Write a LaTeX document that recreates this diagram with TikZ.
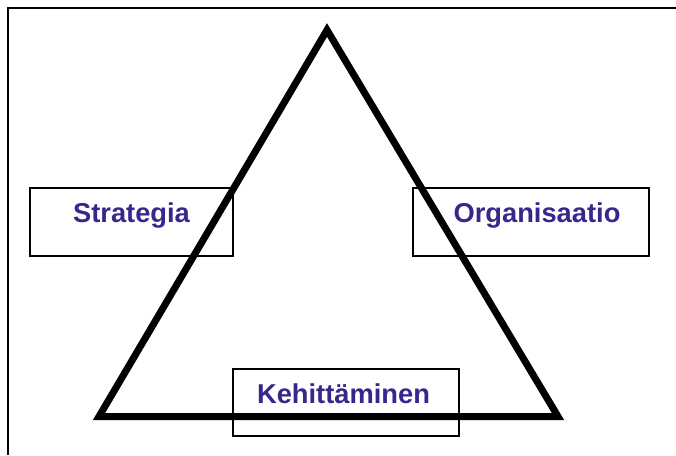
\documentclass[tikz,border=0pt]{standalone}
\usepackage{fontspec}
\setmainfont{Liberation Sans}
\definecolor{labelpurple}{RGB}{55,38,140}
\begin{document}
\begin{tikzpicture}[x=1pt,y=-1pt,
  box/.style={draw=black,line width=1.2pt,minimum width=#1,inner sep=0pt,minimum height=68pt},
  lbl/.style={text=labelpurple,font=\fontsize{27.3}{32}\selectfont\bfseries,inner sep=0pt,anchor=base},
  frame/.style={line width=2pt,black},
  tri/.style={line width=7pt,line join=miter,black}]
\useasboundingbox (0,0) rectangle (676,455);
% page frame: top and left rules only
\coordinate (ftl) at (8,8);
\coordinate (ftr) at (676,8);
\coordinate (fbl) at (8,455);
\draw[frame] (fbl) -- (ftl) -- (ftr);
% boxes
\node[box=203pt] (sbox) at (131.5,222) {};
\node[box=236pt] (obox) at (531,222) {};
\node[box=226pt,minimum height=67pt] (kbox) at (346,402.5) {};
% triangle
\coordinate (apex) at (327,30);
\coordinate (bl) at (99,416.5);
\coordinate (br) at (558,416.5);
\draw[tri] (apex) -- (bl) -- (br) -- cycle;
% labels
\node[lbl] (stxt) at (131.5,222) {Strategia};
\node[lbl] (otxt) at (537,222) {Organisaatio};
\node[lbl] (ktxt) at (343.5,403) {Kehittäminen};
\end{tikzpicture}
\end{document}
